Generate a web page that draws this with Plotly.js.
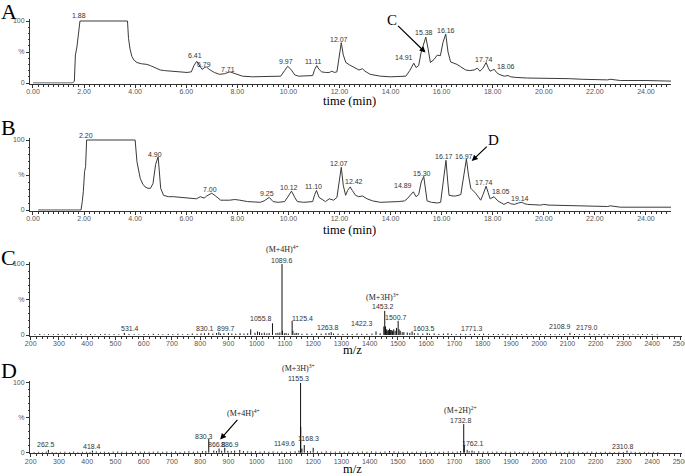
<!DOCTYPE html>
<html><head><meta charset="utf-8">
<script src="https://cdn.plot.ly/plotly-3.0.1.min.js"></script>
<style>html,body{margin:0;padding:0;background:#fff}#g{width:685px;height:476px}</style>
</head><body><div id="g"></div>
<script>
// ---------- Chromatogram A (time, %) ----------
const tA = [0,1.55,1.62,1.66,1.72,1.78,1.84,3.70,3.74,3.80,3.87,3.95,4.07,4.25,4.46,4.60,4.72,4.85,4.98,5.15,5.37,5.7,6.03,6.2,6.3,6.41,6.52,6.62,6.72,6.79,6.9,7.1,7.3,7.5,7.71,7.9,8.2,8.6,9.0,9.5,9.7,9.85,9.97,10.1,10.25,10.4,10.7,10.95,11.03,11.11,11.2,11.3,11.45,11.6,11.7,11.8,11.9,11.98,12.07,12.15,12.25,12.4,12.56,12.76,12.9,13.0,13.2,13.6,14.0,14.3,14.6,14.75,14.91,15.0,15.1,15.2,15.38,15.47,15.56,15.7,15.83,15.95,16.05,16.16,16.25,16.35,16.5,16.6,16.75,16.94,17.1,17.27,17.4,17.5,17.62,17.74,17.82,17.9,18.0,18.06,18.15,18.25,18.45,18.6,18.7,18.9,19.36,20.0,20.5,21.0,21.5,22.0,22.5,22.6,23.0,24.0,25.0];
const pA = [0,0,3,45,58,85,100,100,72,55,43,37,33,31,30,28,26,23,21,20,19,18,17,18,28,35,27,22,25,26,22,17,14,15,18,15,11,10,10,10,11,20,27,22,13,11,11,12,22,28,22,18,17,17,19,17,18,40,65,45,33,29,26,21,23,19,14,11,10,10,11,20,32,25,28,50,74,55,33,38,45,44,65,79,50,34,32,30,26,21,20,21,24,19,24,33,25,19,21,22,17,14,11,12,10,9,8,8,7,7,6,5,5,6,4,4,3];
const labA = ['1.88','6.41','6.79','7.71','9.97','11.11','12.07','14.91','15.38','16.16','17.74','18.06'];

// ---------- Chromatogram B (time, %) ----------
const tB = [0.2,1.88,1.93,1.97,2.02,2.06,2.1,4.0,4.07,4.2,4.3,4.39,4.5,4.6,4.7,4.8,4.9,4.95,5.0,5.11,5.3,5.5,6.03,6.4,6.55,6.7,6.8,7.0,7.15,7.35,7.7,7.9,8.1,8.4,8.9,9.05,9.25,9.4,9.6,9.85,10.0,10.12,10.25,10.35,10.6,10.95,11.03,11.1,11.2,11.3,11.45,11.6,11.77,11.9,12.0,12.07,12.15,12.24,12.32,12.42,12.5,12.63,12.75,12.9,13.08,13.3,13.6,14.0,14.3,14.55,14.65,14.89,15.0,15.1,15.2,15.3,15.37,15.43,15.6,15.83,15.96,16.05,16.17,16.24,16.29,16.45,16.55,16.75,16.85,16.97,17.05,17.14,17.33,17.45,17.53,17.62,17.74,17.82,17.9,18.05,18.12,18.2,18.44,18.6,18.7,18.85,19.0,19.14,19.25,19.36,19.88,20.0,20.2,21.2,22.0,22.5,22.6,23.0,24.0,25.0];
const pB = [0,0,12,26,55,62,100,100,69,45,37,33,31,31,38,65,76,55,31,21,19,19,17,16,19,17,20,24,20,14,14,15,14,12,11,13,18,12,11,12,20,27,18,12,11,12,22,28,18,16,12,16,14,18,45,61,35,21,28,33,28,21,19,20,16,13,11,11,12,13,16,26,19,22,40,48,30,13,11,10,11,40,71,40,21,20,20,22,45,73,50,31,24,18,14,22,34,25,16,19,16,13,8,11,9,8,10,11,9,8,7,8,7,6,5,5,6,4,4,4];
const labB = ['2.20','4.90','7.00','9.25','10.12','11.10','12.07','12.42','14.89','15.30','16.17','16.97','17.74','18.05','19.14'];

// ---------- Mass spectrum C (m/z, %) ----------
const mzC = [531.4,830.1,866,899.7,978.8,1003,1010,1055.8,1075,1089.6,1091,1125.4,1128,1140,1263.8,1422.3,1450,1453.2,1456,1460,1466,1470,1478,1485,1490,1495,1500.7,1504,1515,1550,1603.5,1771.3,2108.9,2179.0];
const inC = [3,3,4,3,8,5,4,16.5,3,100,6,20,6,3,4,5,12,34,12,8,7,9,7,8,6,10,20,8,4,5,3,2,3,2];
const noiseMzC = [215,232,248,263,281,297,312,330,347,361,379,396,412,428,447,463,478,495,512,548,566,583,601,617,634,652,668,687,703,721,738,756,772,789,803,815,845,858,872,884,912,926,941,955,968,994,1018,1027,1036,1044,1068,1082,1098,1104,1112,1135,1147,1160,1178,1195,1212,1228,1245,1256,1272,1288,1305,1321,1338,1355,1372,1390,1408,1437,1462,1468,1474,1481,1508,1521,1533,1542,1558,1571,1588,1612,1628,1645,1661,1677,1690,1706,1722,1740,1756,1788,1803,1821,1838,1855,1871,1889,1905,1922,1938,1956,1972,1990,2005,2022,2040,2056,2072,2090,2125,2142,2160,2195,2212,2230,2247,2263,2280,2298,2315,2332,2350,2366,2383,2400,2418,2435,2452,2470,2488];
const noiseInC = [1,1.5,0.8,1.2,1,1.6,0.9,1.3,1,1.8,1.1,0.9,1.4,1,1.2,1.6,1,1.3,1.1,1.5,1.2,0.9,1.4,1.1,1.7,1.2,1,1.5,1.3,1.8,1.1,1.4,2,1.6,2.2,2.5,2.1,2.8,1.9,2.4,2.2,1.8,2.6,2,2.4,3,2.5,3.2,2.2,2.8,2.6,3.5,2.4,2.9,2,2.2,2.7,1.8,2.1,1.6,2.3,1.9,2.5,2.8,2,1.7,1.5,1.9,1.4,2.2,1.8,1.6,2,2.4,6,5,7,5.5,6,4,3.5,3,2.6,2.4,2,1.8,2.2,1.5,1.9,2.4,1.6,1.3,1.7,1.2,1.5,1.4,1.8,1.1,1.5,1.3,1.6,1.2,1.4,1.1,1.3,1.5,1.2,1.0,1.4,1.1,1.3,1,1.2,1.5,1.4,1.1,1.3,1.0,1.2,1.6,1.1,1.3,1,1.4,1.2,1,1.1,1.3,1,1.2,0.9];

// ---------- Mass spectrum D (m/z, %) ----------
const mzD = [262.5,418.4,830.3,866.8,886.9,940,1149.6,1155.3,1155.9,1160,1168.3,1200,1732.8,1735,1745,1762.1,2310.8];
const inD = [4,3,20,6,7,4,3,100,37,6,11,7,41,11,4,3,3];
const noiseMzD = [212,228,241,255,276,290,305,321,338,352,367,383,398,410,432,447,461,476,492,508,523,539,556,571,588,603,619,634,650,667,682,698,713,729,745,760,776,791,808,820,848,858,876,898,910,922,953,968,981,996,1012,1027,1043,1058,1074,1089,1105,1120,1136,1180,1190,1215,1230,1246,1262,1278,1294,1310,1326,1342,1358,1374,1390,1406,1422,1438,1454,1470,1486,1502,1518,1534,1550,1566,1582,1598,1614,1630,1646,1662,1678,1694,1710,1722,1752,1770,1786,1802,1818,1834,1850,1866,1882,1898,1914,1930,1946,1962,1978,1994,2010,2026,2042,2058,2074,2090,2106,2122,2138,2154,2170,2186,2202,2218,2234,2250,2266,2282,2298,2325,2340,2356,2372,2388,2404,2420,2436,2452,2468,2484];
const noiseInD = [1,1.3,0.9,1.5,1.1,0.8,1.2,1.4,1,1.6,0.9,1.2,1.3,1,1.7,1.2,1.4,1,1.6,1.8,1.3,1.5,1.1,1.9,1.4,1.6,1.2,1.5,1.8,1.3,1.6,1.4,1.9,1.2,1.7,2,1.5,1.8,2.2,2.4,3,2.5,2.8,2.6,2.2,3,2.4,2,1.8,2.2,1.6,2,1.5,1.8,1.4,1.7,1.3,1.6,2,2.5,2.2,1.8,1.5,2,1.6,1.4,1.8,1.3,1.6,1.2,1.5,1.8,1.4,2,1.6,1.3,1.7,2.4,1.8,1.5,1.3,1.6,1.2,1.5,1.4,1.8,1.2,1.6,1.3,1.5,1.9,1.4,1.6,2.5,2.2,1.8,2,1.5,1.7,1.4,1.6,1.2,1.5,1.3,1.6,1.1,1.4,1.2,1.5,1.3,1.1,1.4,1.2,1.6,1.3,1.1,1.5,1.2,1.4,1.0,1.3,1.5,1.2,1.1,1.4,1.2,1.0,1.3,1.1,1.4,1.2,1.0,1.3,1.1,1.2,1.0];
const labD = ['262.5','418.4','830.3','866.8','886.9','1149.6','1155.3','1168.3','1732.8','1762.1','2310.8'];
const labC = ['531.4','830.1','899.7','1055.8','1089.6','1125.4','1263.8','1422.3','1453.2','1500.7','1603.5','1771.3','2108.9','2179.0'];

// ---------- helpers ----------
function sticks(mz, inten) {
  const x = [], y = [];
  mz.forEach((m, i) => { x.push(m, m, null); y.push(0, inten[i], null); });
  return {x, y};
}
function interp(ts, ps, t) {
  for (let i = 1; i < ts.length; i++) {
    if (t <= ts[i]) { const f = (t - ts[i-1]) / (ts[i] - ts[i-1]); return ps[i-1] + f * (ps[i] - ps[i-1]); }
  }
  return ps[ps.length-1];
}
function lookup(mzs, ins, m) { const i = mzs.indexOf(m); return i >= 0 ? ins[i] : 0; }

const sC = sticks(mzC.concat(noiseMzC), inC.concat(noiseInC));
const sD = sticks(mzD.concat(noiseMzD), inD.concat(noiseInD));

const traces = [
  {x: tA, y: pA, xaxis: 'x', yaxis: 'y', mode: 'lines', line: {color: '#3a3a3a', width: 1}, hoverinfo: 'skip'},
  {x: tB, y: pB, xaxis: 'x2', yaxis: 'y2', mode: 'lines', line: {color: '#3a3a3a', width: 1}, hoverinfo: 'skip'},
  {x: sC.x, y: sC.y, xaxis: 'x3', yaxis: 'y3', mode: 'lines', line: {color: '#111', width: 1}, connectgaps: false, hoverinfo: 'skip'},
  {x: sD.x, y: sD.y, xaxis: 'x4', yaxis: 'y4', mode: 'lines', line: {color: '#111', width: 1}, connectgaps: false, hoverinfo: 'skip'}
];

const tickFont = {family: 'Liberation Sans, Arial, sans-serif', size: 7, color: '#555'};
function xTime(anchor) {
  return {domain: [30/685, 671/685], range: [-0.117, 24.98], anchor: anchor, tick0: 0, dtick: 2, tickformat: '.2f',
    ticks: 'outside', ticklen: 3, tickcolor: '#333', showline: true, linecolor: '#333', linewidth: 1,
    ticklabelstandoff: -2, ticklabeloverflow: 'allow',
    showgrid: false, zeroline: false, tickfont: tickFont, minor: {dtick: 0.2, tick0: 0, ticks: 'outside', ticklen: 2, tickcolor: '#333', showgrid: false}};
}
function xMz(anchor) {
  return {domain: [30/685, 682/685], range: [197.5, 2505.5], anchor: anchor, tick0: 0, dtick: 100, tickformat: 'd',
    ticks: 'outside', ticklen: 3, tickcolor: '#333', showline: true, linecolor: '#333', linewidth: 1,
    ticklabelstandoff: -2, ticklabeloverflow: 'allow',
    showgrid: false, zeroline: false, tickfont: tickFont, minor: {dtick: 20, tick0: 0, ticks: 'outside', ticklen: 2, tickcolor: '#333', showgrid: false}};
}
function yPct(anchor, dom) {
  return {domain: dom, range: [-1, 103], anchor: anchor, tickmode: 'array', tickvals: [0, 50, 100], ticktext: ['0', '%', '100'],
    ticks: 'outside', ticklen: 3, tickcolor: '#333', showline: true, linecolor: '#333', linewidth: 1,
    showgrid: false, zeroline: false, tickfont: tickFont, minor: {dtick: 10, tick0: 0, ticks: 'outside', ticklen: 1.5, tickcolor: '#444', showgrid: false}};
}

const annFont = {family: 'Liberation Sans, Arial, sans-serif', size: 7, color: '#333'};
const serif = 'Liberation Serif, Times New Roman, serif';
const ann = [];
function pk(xref, yref, x, y, text, dx, dy) {
  ann.push({xref: xref, yref: yref, x: x, y: y, text: text, showarrow: false, xanchor: 'center', yanchor: 'bottom',
    xshift: dx, yshift: dy, font: annFont});
}
// label offsets (pixel nudges)
const offA = [[-2,0],[-2,0],[-2,-3],[-2,-3],[-2,-1],[-3,-1],[-2,-2],[-10,0],[-2,-1],[0,-2],[-2,-2],[12,-3]];
labA.forEach((s, i) => { const t = parseFloat(s); pk('x', 'y', t, interp(tA, pA, t), s, offA[i][0], offA[i][1]); });
const offB = [[-3,-1],[-3,-3],[-2,-2],[-2.5,-2],[-2,-2],[-3,-2],[-2,-2],[4,0],[-10,1],[-2,-3],[-2,-2],[-2,-3],[-2,-2],[7,0],[-2,-2]];
labB.forEach((s, i) => { const t = parseFloat(s); pk('x2', 'y2', t, interp(tB, pB, t), s, offB[i][0], offB[i][1]); });
const offC = [[6,-1.5],[-4,-1.5],[-2,-1.5],[-11,-1],[0,-2],[10,-3],[-3,-1],[-14,2],[-2,-1],[-2,-2],[-3,-1],[-3,0],[-10,1],[-3,1]];
labC.forEach((s, i) => { const m = parseFloat(s); pk('x3', 'y3', m, lookup(mzC, inC, m), s, offC[i][0], offC[i][1]); });
const offD = [[-2,0],[0,-1],[-5,-3],[-2,-1],[5,-2],[-14,2],[-2,-1],[4,1],[-3,-2],[1,2],[-4,-1]];
labD.forEach((s, i) => { const m = parseFloat(s); pk('x4', 'y4', m, lookup(mzD, inD, m), s, offD[i][0], offD[i][1]); });

// ion labels
function ion(xref, yref, x, y, text, dx, dy) {
  ann.push({xref: xref, yref: yref, x: x, y: y, text: text, showarrow: false, xanchor: 'center', yanchor: 'bottom',
    xshift: dx, yshift: dy, font: {family: serif, size: 8, color: '#222'}});
}
ion('x3', 'y3', 1089.6, 100, '(M+4H)<sup>4+</sup>', 0, 8);
ion('x3', 'y3', 1453.2, 34, '(M+3H)<sup>3+</sup>', -2, 7);
ion('x4', 'y4', 1155.3, 100, '(M+3H)<sup>3+</sup>', -2, 8);
ion('x4', 'y4', 1732.8, 41, '(M+2H)<sup>2+</sup>', -3, 7);

// arrows
ann.push({xref: 'x', yref: 'y', x: 15.37, y: 49, ax: -34, ay: -33, text: 'C', showarrow: true, arrowhead: 2, arrowsize: 1, arrowwidth: 1.2, arrowcolor: '#000', standoff: 0,
  font: {family: serif, size: 15, color: '#000'}});
ann.push({xref: 'x2', yref: 'y2', x: 17.18, y: 70, ax: 22, ay: -21, text: 'D', showarrow: true, arrowhead: 2, arrowsize: 1, arrowwidth: 1.2, arrowcolor: '#000', standoff: 0,
  font: {family: serif, size: 15, color: '#000'}});
ann.push({xref: 'x4', yref: 'y4', x: 870.6, y: 19, ax: 23, ay: -26, text: '(M+4H)<sup>4+</sup>', showarrow: true, arrowhead: 2, arrowsize: 1, arrowwidth: 1.2, arrowcolor: '#000', standoff: 0,
  font: {family: serif, size: 8, color: '#222'}});

// panel letters and axis titles
function paperText(x, y, text, size) {
  ann.push({xref: 'paper', yref: 'paper', x: x / 685, y: 1 - y / 476, text: text, showarrow: false, xanchor: 'center', yanchor: 'middle',
    font: {family: serif, size: size, color: '#000'}});
}
paperText(8.5, 11, 'A', 22);
paperText(8.5, 128, 'B', 22);
paperText(8.5, 257, 'C', 22);
paperText(8.5, 370.5, 'D', 22);
paperText(349, 100.5, 'time (min)', 12.5);
paperText(349, 229.5, 'time (min)', 12.5);
paperText(352, 350, 'm/z', 12.5);
paperText(352, 468.5, 'm/z', 12.5);

const layout = {
  width: 685, height: 476, margin: {l: 0, r: 0, t: 0, b: 0}, showlegend: false,
  paper_bgcolor: '#fff', plot_bgcolor: '#fff',
  xaxis: xTime('y'), yaxis: yPct('x', [1 - 83.62/476, 1 - 19.14/476]),
  xaxis2: xTime('y2'), yaxis2: yPct('x2', [1 - 210.7/476, 1 - 137.9/476]),
  xaxis3: xMz('y3'), yaxis3: yPct('x3', [1 - 335.71/476, 1 - 261.87/476]),
  xaxis4: xMz('y4'), yaxis4: yPct('x4', [1 - 453.4/476, 1 - 380.9/476]),
  annotations: ann
};
Plotly.newPlot('g', traces, layout, {staticPlot: true, displayModeBar: false});
</script></body></html>
